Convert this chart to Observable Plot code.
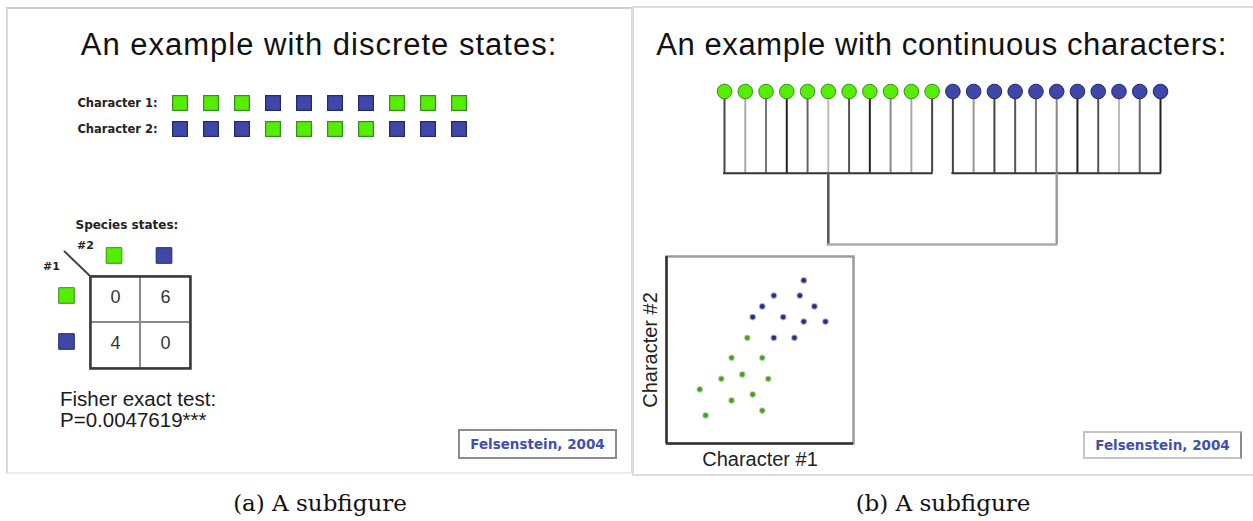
<!DOCTYPE html>
<html><head><meta charset="utf-8">
<script src="https://cdn.jsdelivr.net/npm/d3@7"></script>
<script src="https://cdn.jsdelivr.net/npm/@observablehq/plot@0.6"></script>
<style>
html,body{margin:0;padding:0;background:#fff;}
#page{position:relative;width:1253px;height:521px;overflow:hidden;background:#fff;}
.panel{position:absolute;box-sizing:border-box;}
.title{position:absolute;font-family:"Liberation Sans",Arial,sans-serif;font-size:31px;letter-spacing:1px;color:#111;white-space:nowrap;transform:translateX(-50%);line-height:1;}
.txt{position:absolute;font-family:"Liberation Sans",Arial,sans-serif;font-size:20.5px;color:#1a1a1a;white-space:nowrap;line-height:1;}
.cite{position:absolute;box-sizing:border-box;border:2px solid #8c8c8c;background:#fff;font-family:"DejaVu Sans",sans-serif;font-weight:bold;font-size:13.5px;color:#4350ae;display:flex;align-items:center;justify-content:center;white-space:nowrap;}
.cap{position:absolute;font-family:"DejaVu Serif",serif;font-size:23px;color:#111;white-space:nowrap;transform:translateX(-50%);line-height:1;}
</style></head>
<body><div id="page"></div>
<script>
// ---------- data ----------
const taxa = [1, 2, 3, 4, 5, 6, 7, 8, 9, 10];
const characters = ["Character 1", "Character 2"];
const char1States = ["G", "G", "G", "B", "B", "B", "B", "G", "G", "G"];
const char2States = ["B", "B", "B", "G", "G", "G", "G", "B", "B", "B"];
const stateOrder = ["G", "B"];

const tipState = ["G","G","G","G","G","G","G","G","G","G","G","B","B","B","B","B","B","B","B","B","B","B"];
const tipClade = [0,0,0,0,0,0,0,0,0,0,0,1,1,1,1,1,1,1,1,1,1,1];
const tipShade = [0.78,0.24,0.51,0.96,0.60,0.15,0.69,0.96,0.42,0.24,0.78,0.78,0.33,0.78,0.69,0.51,0.42,0.96,0.69,0.15,0.60,0.96];
const cladeShade = [0.69, 0.33];
const tipBranchLength = 1.0;
const cladeBranchLength = 0.87;

const char1Values = [4.32,3.48,5.12,4.05,2.93,5.44,1.78,4.61,3.48,5.12,2.09, 7.34,5.74,7.13,5.12,7.91,4.61,6.24,7.34,8.50,5.74,6.84];
const char2Values = [5.65,4.58,4.58,3.69,3.46,3.46,2.89,2.62,2.30,1.76,1.50, 8.72,7.91,7.91,7.33,7.33,6.76,6.76,6.52,6.52,5.65,5.65];

const titles = ["An example with discrete states:", "An example with continuous characters:"];
const captions = ["(a) A subfigure", "(b) A subfigure"];
const citation = "Felsenstein, 2004";

// ---------- styles ----------
const fillOf = {G: "#55ee00", B: "#3f47a8"};
const edgeOf = {G: "#3a8a26", B: "#222a6c"};
const grey = d3.interpolateRgb("#d8d8d8", "#1a1a1a");
const W = 1253, H = 521;
const overlay = "position:absolute;left:0;top:0;background:transparent;overflow:visible";
const page = document.getElementById("page");

function div(cls, css, text) {
  const d = document.createElement("div");
  d.className = cls; d.style.cssText = css; if (text != null) d.textContent = text;
  page.appendChild(d); return d;
}

// panels
div("panel", "left:6px;top:7px;width:627px;height:467px;border:2px solid #d9d9d9;border-top-color:#cfcfcf;border-bottom-color:#ececec;");
div("panel", "left:632px;top:6px;width:621px;height:470px;border:2px solid #dcdcdc;border-right:none;");
div("title", "left:319px;top:29px;", titles[0]);
div("title", "left:941.5px;top:29px;letter-spacing:0.6px;", titles[1]);

// ---------- (a) character matrix ----------
const matrix = [];
taxa.forEach((t, i) => {
  matrix.push({taxon: t, character: characters[0], state: char1States[i]});
  matrix.push({taxon: t, character: characters[1], state: char2States[i]});
});
page.appendChild(Plot.plot({
  width: W, height: H, style: overlay,
  marginLeft: 163.6, marginRight: W - 475.6, marginTop: 90, marginBottom: H - 142,
  x: {type: "band", domain: taxa, paddingInner: 0.49, paddingOuter: 0.245, axis: null},
  y: {type: "band", domain: characters, paddingInner: 0.385, paddingOuter: 0.19, axis: null},
  marks: [
    Plot.cell(matrix, {x: "taxon", y: "character", fill: d => fillOf[d.state], stroke: d => edgeOf[d.state], strokeWidth: 1.2, inset: 0.6}),
    Plot.text(characters, {y: d => d, text: d => d + ":", frameAnchor: "left", textAnchor: "end", lineAnchor: "middle", dx: -6.5,
      fontFamily: "DejaVu Sans", fontWeight: "bold", fontSize: 11.5, fill: "#222"})
  ]
}));

// ---------- (a) contingency table ----------
const counts = [];
for (const s1 of stateOrder) for (const s2 of stateOrder)
  counts.push({s1, s2, n: taxa.filter((t, i) => char1States[i] === s1 && char2States[i] === s2).length});
const labelOpts = {fontFamily: "DejaVu Sans", fontWeight: "bold", fill: "#222", frameAnchor: "top-left", lineAnchor: "middle"};
page.appendChild(Plot.plot({
  width: W, height: H, style: overlay,
  marginLeft: 90, marginRight: W - 190, marginTop: 276, marginBottom: H - 368,
  x: {type: "band", domain: stateOrder, padding: 0, axis: null},
  y: {type: "band", domain: stateOrder, padding: 0, axis: null},
  marks: [
    Plot.cell(counts, {x: "s2", y: "s1", fill: "white", stroke: "#8a8a8a", strokeWidth: 2, inset: 0}),
    Plot.frame({stroke: "#3a3a3a", strokeWidth: 2.5}),
    Plot.text(counts, {x: "s2", y: "s1", text: d => String(d.n), fontFamily: "Liberation Sans", fontSize: 18, fill: "#333", dy: -2}),
    Plot.dot(stateOrder, {x: d => d, frameAnchor: "top", dy: -21, dx: -1.5, symbol: "square", r: 8.8, fill: d => fillOf[d], stroke: d => edgeOf[d], strokeWidth: 1}),
    Plot.dot(stateOrder, {y: d => d, frameAnchor: "left", dx: -24, dy: -4, symbol: "square", r: 8.8, fill: d => fillOf[d], stroke: d => edgeOf[d], strokeWidth: 1}),
    Plot.vector([0], {frameAnchor: "top-left", length: 36, rotate: -46, anchor: "start", stroke: "#444", strokeWidth: 2,
      shape: {draw(context, l) { context.moveTo(0, 0); context.lineTo(0, -l); }}}),
    Plot.text(["Species states:"], {...labelOpts, text: d => d, textAnchor: "start", dx: -15, dy: -51, fontSize: 12}),
    Plot.text(["#2"], {...labelOpts, text: d => d, textAnchor: "middle", dx: -5, dy: -31, fontSize: 11}),
    Plot.text(["#1"], {...labelOpts, text: d => d, textAnchor: "middle", dx: -39, dy: -10, fontSize: 11})
  ]
}));

// Fisher exact test (one-sided), computed from the table
function choose(n, k) { let r = 1; for (let i = 1; i <= k; i++) r = r * (n - k + i) / i; return r; }
const a = counts.find(d => d.s1 === "G" && d.s2 === "G").n;
const N = taxa.length;
const row1 = counts.filter(d => d.s1 === "G").reduce((s, d) => s + d.n, 0);
const col1 = counts.filter(d => d.s2 === "G").reduce((s, d) => s + d.n, 0);
let pval = 0;
for (let k = Math.max(0, row1 + col1 - N); k <= a; k++) pval += choose(col1, k) * choose(N - col1, row1 - k) / choose(N, row1);
div("txt", "left:60px;top:389px;", "Fisher exact test:");
div("txt", "left:60px;top:410px;", "P=" + pval.toFixed(7) + "***");
div("cite", "left:458px;top:429px;width:159px;height:30px;", citation);

// ---------- (b) tree ----------
const tipDepth = cladeBranchLength + tipBranchLength;
const tips = tipState.map((s, i) => ({i, state: s, clade: tipClade[i], shade: tipShade[i], y1: cladeBranchLength, y2: tipDepth}));
const clades = [0, 1].map(c => {
  const m = tips.filter(t => t.clade === c);
  return {c, x1: d3.min(m, d => d.i), x2: d3.max(m, d => d.i), x: d3.mean(m, d => d.i), shade: cladeShade[c], y0: 0, y: cladeBranchLength};
});
const root = [{x1: clades[0].x, x2: clades[1].x, y: 0}];
page.appendChild(Plot.plot({
  width: W, height: H, style: overlay,
  marginLeft: 724, marginRight: W - 1160, marginTop: 91, marginBottom: H - 244,
  x: {domain: [0, tipState.length - 1], axis: null},
  y: {domain: [0, tipDepth], axis: null},
  marks: [
    Plot.ruleX(tips, {x: "i", y1: "y1", y2: "y2", stroke: d => grey(d.shade), strokeWidth: 2}),
    Plot.ruleY(clades, {y: "y", x1: "x1", x2: "x2", stroke: "#333", strokeWidth: 2, strokeLinecap: "square"}),
    Plot.ruleX(clades, {x: "x", y1: "y0", y2: "y", stroke: d => grey(d.shade), strokeWidth: 2.5}),
    Plot.ruleY(root, {y: "y", x1: "x1", x2: "x2", stroke: "#aaaaaa", strokeWidth: 2.5, strokeLinecap: "square"}),
    Plot.dot(tips, {x: "i", y: "y2", r: 7.3, fill: d => fillOf[d.state], stroke: d => edgeOf[d.state], strokeWidth: 1})
  ]
}));

// ---------- (b) scatter ----------
const points = tipState.map((s, i) => ({state: s, c1: char1Values[i], c2: char2Values[i]}));
const dotFill = {G: "#49a024", B: "#28307e"};
const dotHalo = {G: "rgba(73,160,36,0.35)", B: "rgba(40,48,126,0.35)"};
page.appendChild(Plot.plot({
  width: W, height: H, style: overlay,
  marginLeft: 666, marginRight: W - 853, marginTop: 256, marginBottom: H - 443,
  x: {domain: [0, 10], axis: null},
  y: {domain: [0, 10], axis: null},
  marks: [
    Plot.frame({stroke: "#9a9a9a", strokeWidth: 2.5}),
    Plot.ruleX([0], {stroke: "#333", strokeWidth: 2.5}),
    Plot.ruleY([0], {stroke: "#333", strokeWidth: 2.5}),
    Plot.dot(points, {x: "c1", y: "c2", r: 2.4, fill: d => dotFill[d.state], stroke: d => dotHalo[d.state], strokeWidth: 2}),
    Plot.text(["Character #1"], {text: d => d, frameAnchor: "bottom", lineAnchor: "middle", textAnchor: "middle", dy: 16, fontFamily: "Liberation Sans", fontSize: 20, fill: "#222"}),
    Plot.text(["Character #2"], {text: d => d, frameAnchor: "left", lineAnchor: "middle", textAnchor: "middle", dx: -16, rotate: -90, fontFamily: "Liberation Sans", fontSize: 20, fill: "#222"})
  ]
}));
div("cite", "left:1083px;top:431px;width:159px;height:28px;border-color:#c4c4c4 #8c8c8c #c4c4c4 #c4c4c4;", citation);

// captions
div("cap", "left:320px;top:492px;", captions[0]);
div("cap", "left:943px;top:492px;", captions[1]);
</script></body></html>
